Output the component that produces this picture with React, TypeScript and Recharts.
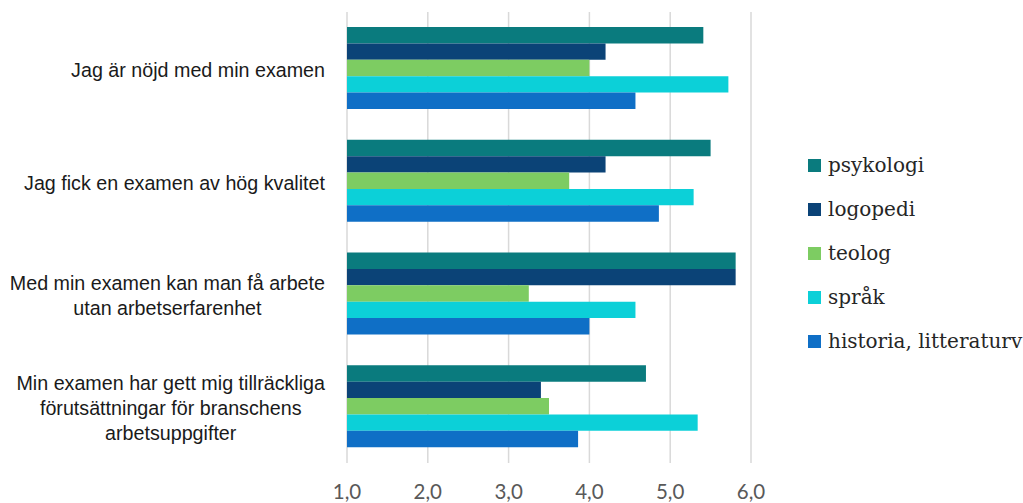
import { BarChart, Bar, XAxis, YAxis, CartesianGrid, Legend } from "recharts";

const categories = [
  "Jag är nöjd med min examen",
  "Jag fick en examen av hög kvalitet",
  "Med min examen kan man få arbete\nutan arbetserfarenhet",
  "Min examen har gett mig tillräckliga\nförutsättningar för branschens\narbetsuppgifter",
];

const psykologi = [5.41, 5.5, 5.81, 4.7];
const logopedi = [4.2, 4.2, 5.81, 3.4];
const teolog = [4.0, 3.75, 3.25, 3.5];
const sprak = [5.72, 5.29, 4.57, 5.34];
const historia = [4.57, 4.86, 4.0, 3.86];

const xTicks = [1, 2, 3, 4, 5, 6];

const series = [
  { key: "psykologi", name: "psykologi", color: "#0A7B7E" },
  { key: "logopedi", name: "logopedi", color: "#0B4377" },
  { key: "teolog", name: "teolog", color: "#7DCC62" },
  { key: "sprak", name: "språk", color: "#0CD0D8" },
  { key: "historia", name: "historia, litteraturv", color: "#0F6FC6" },
];

const data = categories.map((c, i) => ({
  category: c,
  psykologi: psykologi[i],
  logopedi: logopedi[i],
  teolog: teolog[i],
  sprak: sprak[i],
  historia: historia[i],
}));

const labelFont = "19.7px 'Liberation Sans', Arial, sans-serif";

let ctx: CanvasRenderingContext2D | null = null;
function measure(s: string) {
  if (!ctx) ctx = document.createElement("canvas").getContext("2d");
  if (!ctx) return s.length * 9;
  ctx.font = labelFont;
  return ctx.measureText(s).width;
}

const CategoryTick = (props: any) => {
  const { x, y, payload } = props;
  const lines: string[] = String(payload.value).split("\n");
  const lh = 24.8;
  const start = -((lines.length - 1) * lh) / 2 + 1.5;
  const maxW = Math.max(...lines.map(measure));
  const right = x - 14;
  const cx = right - maxW / 2;
  return (
    <text
      x={cx}
      y={y + start}
      textAnchor="middle"
      fill="#1a1a1a"
      fontFamily="'Liberation Sans', Arial, sans-serif"
      fontSize={19.7}
    >
      {lines.map((l, i) => (
        <tspan key={i} x={cx} dy={i === 0 ? "0.36em" : lh}>
          {l}
        </tspan>
      ))}
    </text>
  );
};

const LegendContent = () => (
  <div>
    {series.map((s) => (
      <div
        key={s.key}
        style={{
          display: "flex",
          alignItems: "center",
          height: 44,
          fontFamily: "'DejaVu Serif', serif",
          fontSize: 20,
          color: "#262626",
          whiteSpace: "nowrap",
        }}
      >
        <span
          style={{
            display: "inline-block",
            width: 13,
            height: 13,
            background: s.color,
            marginRight: 7,
            flexShrink: 0,
          }}
        />
        {s.name}
      </div>
    ))}
  </div>
);

export default function App() {
  return (
    <div style={{ position: "absolute", left: 0, top: 0, background: "#fff" }}>
      <BarChart
        width={1023}
        height={503}
        data={data}
        layout="vertical"
        margin={{ top: 12, right: 57, bottom: 0, left: 0 }}
        barGap={0}
      >
        <CartesianGrid horizontal={false} stroke="#d9d9d9" strokeWidth={1.5} />
        <XAxis
          type="number"
          domain={[1, 6]}
          ticks={xTicks}
          tickFormatter={(v: number) => v.toFixed(1).replace(".", ",")}
          axisLine={false}
          tickLine={false}
          tickSize={0}
          tickMargin={21}
          height={40}
          tick={{ fill: "#595959", fontSize: 20.5, fontFamily: "Lato, 'Open Sans', sans-serif" }}
          allowDataOverflow
        />
        <YAxis
          type="category"
          dataKey="category"
          width={347}
          axisLine={false}
          tickLine={false}
          tick={<CategoryTick />}
        />
        <Legend
          layout="vertical"
          verticalAlign="top"
          align="right"
          content={<LegendContent />}
          wrapperStyle={{ left: 808, top: 143, width: 215 }}
        />
        {series.map((s) => (
          <Bar
            key={s.key}
            dataKey={s.key}
            name={s.name}
            fill={s.color}
            barSize={16.4}
            isAnimationActive={false}
          />
        ))}
      </BarChart>
    </div>
  );
}
